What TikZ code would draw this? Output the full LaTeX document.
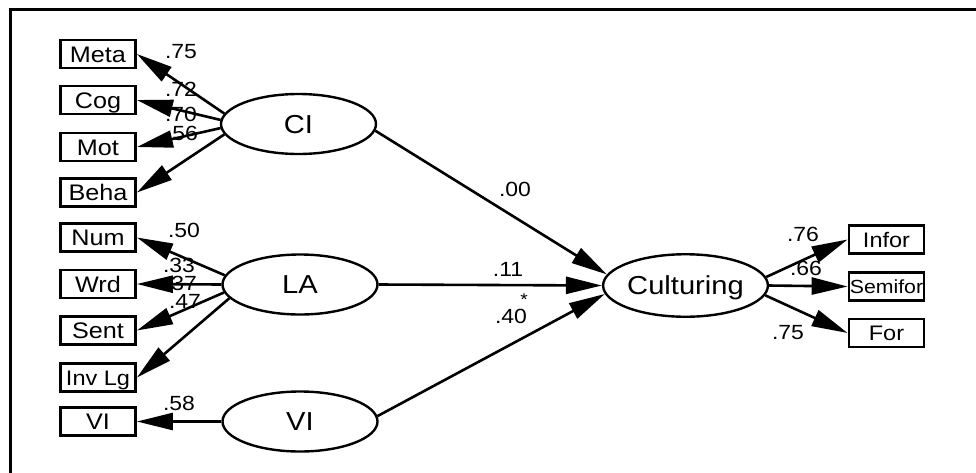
\documentclass[tikz,border=0pt]{standalone}
\usepackage{fontspec}
\setmainfont{Liberation Sans}[FakeStretch=1.12]
\usetikzlibrary{arrows.meta,shapes.geometric}
\begin{document}
\begin{tikzpicture}[x=1pt,y=-1pt,
  obs/.style={draw,line width=2.8pt,rectangle,minimum width=75pt,minimum height=28pt,
    inner sep=0pt,font=\fontsize{22.5}{22.5}\selectfont,text height=16.1pt,text depth=0pt},
  obsr/.style={obs,font=\fontsize{21}{21}\selectfont,text height=15pt},
  lat/.style={draw,line width=2.4pt,ellipse,minimum width=155pt,minimum height=60pt,
    inner sep=0pt,font=\fontsize{26}{26}\selectfont,text height=18.6pt,text depth=0pt},
  load/.style={line width=2.6pt,-{Triangle[length=36pt,width=17pt]}},
  coef/.style={inner sep=0pt,font=\fontsize{20.5}{20.5}\selectfont},
]
% page and frame
\fill[white] (0,0) rectangle (976,472);
\useasboundingbox (0,0) rectangle (976,472);
\draw[line width=3pt] (10.3,480) -- (10.3,9) -- (990,9);

% observed indicators, left column
\node[obs] (meta)  at (98,54)    {Meta};
\node[obs] (cog)   at (98,100)   {Cog};
\node[obs] (mot)   at (98,147)   {Mot};
\node[obs] (beha)  at (98,192.5) {Beha};
\node[obs] (num)   at (98,237.5) {Num};
\node[obs] (wrd)   at (98,284)   {Wrd};
\node[obs] (sent)  at (98,330.5) {Sent};
\node[obs,font=\fontsize{21}{21}\selectfont,text height=15pt] (invlg) at (98,377.5) {Inv Lg};
\node[obs] (vio)   at (98,421.5) {VI};

% latent variables
\node[lat] (ci)   at (298.5,124)   {CI};
\node[lat] (la)   at (300,284.5)   {LA};
\node[lat] (vi)   at (300,421.5)   {VI};
\node[lat,minimum height=62.5pt] (cult) at (685.5,285.5) {Culturing};

% observed indicators, right column
\node[obsr] (infor) at (886.5,239.5) {Infor};
\node[obsr,font=\fontsize{19}{19}\selectfont,text height=13.6pt] (semi) at (886.5,286.5) {Semifor};
\node[obsr] (for)   at (886.5,333)   {For};

% loadings
\draw[load] (ci.172)   -- (meta.east);
\draw[load] (ci.177)   -- (cog.east);
\draw[load] (ci.183.5) -- (mot.east);
\draw[load] (ci.188.5) -- (beha.east);
\draw[load] (la.173.3) -- (num.east);
\draw[load] (la.180)   -- (wrd.east);
\draw[load] (la.186.7) -- (sent.east);
\draw[load] (la.191)   -- (invlg.east);
\draw[load] (vi.west)  -- (vio.east);

% structural paths
\draw[load] (ci.355.6) -- (cult.172.9);
\draw[load] (la.east)  -- (cult.west);
\draw[load] (vi.4.5)   -- (cult.186.9);

\draw[load] (cult.6.1)   -- (infor.west);
\draw[load] (cult.east)  -- (semi.west);
\draw[load] (cult.353.2) -- (for.west);

% coefficients
\node[coef] (c1)  at (181,52)    {.75};
\node[coef] (c2)  at (181,89)    {.72};
\node[coef] (c3)  at (181,114)   {.70};
\node[coef] (c4)  at (182,133)   {.56};
\node[coef] (c5)  at (184,230)   {.50};
\node[coef] (c6)  at (179,265)   {.33};
\node[coef] (c7)  at (181,283.5) {.37};
\node[coef] (c8)  at (185,301)   {.47};
\node[coef] (c9)  at (179,403)   {.58};
\node[coef] (c10) at (515,189)   {.00};
\node[coef] (c11) at (508,269)   {.11};
\node[coef] (c12) at (511,316)   {.40};
\node[inner sep=0pt,font=\fontsize{17}{17}\selectfont] (sig) at (524,300) {*};
\node[coef] (c13) at (803,234.5) {.76};
\node[coef] (c14) at (806,268.5) {.66};
\node[coef] (c15) at (788,332.5) {.75};
\end{tikzpicture}
\end{document}
